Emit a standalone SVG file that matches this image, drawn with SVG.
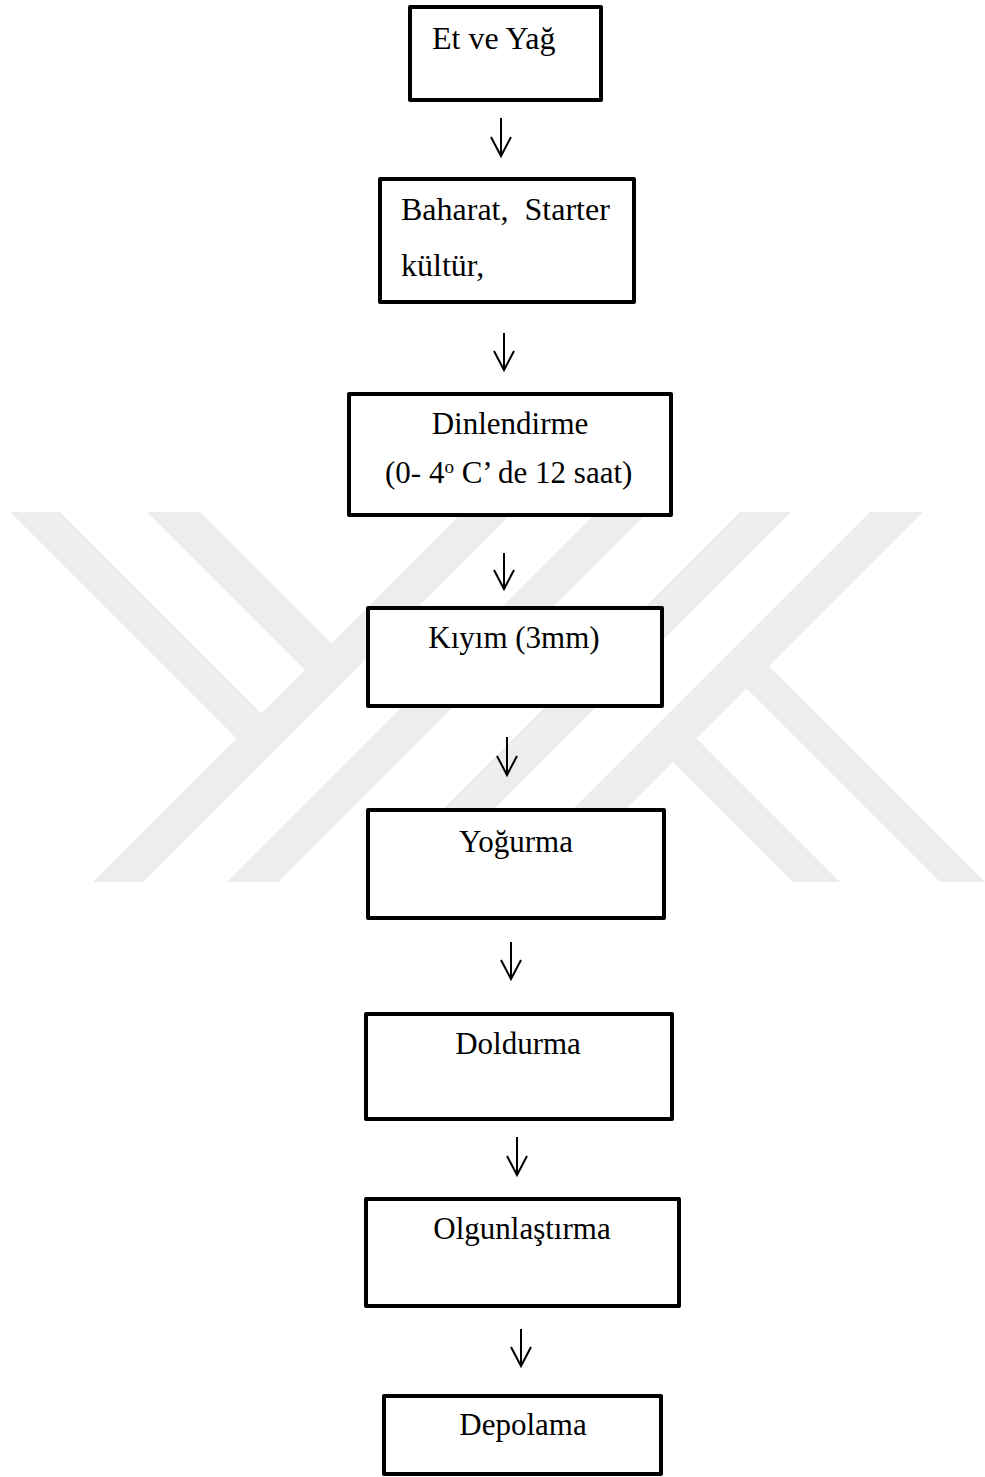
<svg xmlns="http://www.w3.org/2000/svg" width="985" height="1477" viewBox="0 0 985 1477">
<style>
.box{fill:#ffffff;stroke:#000000;stroke-width:4;stroke-linejoin:round}
.lbl{font-family:"Liberation Serif","Times New Roman",serif;font-size:31px;fill:#000000}
.big{font-size:32px}
.wm{fill:#ededed;stroke:none}
.arr{fill:none;stroke:#000000;stroke-width:2}
</style>
<rect x="0" y="0" width="985" height="1477" fill="#ffffff"/>
<g id="watermark">
<polygon class="wm" points="10,512 60,512 274,726 249,751"/>
<polygon class="wm" points="147,512 200,512 344,656 317.5,682.5"/>
<polygon class="wm" points="463,512 513,512 143,882 93,882"/>
<polygon class="wm" points="597,512 648,512 278,882 227,882"/>
<polygon class="wm" points="740,512 791,512 421,882 370,882"/>
<polygon class="wm" points="870,512 923,512 553,882 500,882"/>
<polygon class="wm" points="683,725 840,882 793,882 659.5,748.5"/>
<polygon class="wm" points="755.5,652.5 985,882 940,882 733,675"/>
</g>
<g id="connectors">
<path class="arr" d="M501 118 V156 M491 137 L501 156 L511 137"/>
<path class="arr" d="M504 333 V370 M494 351 L504 370 L514 351"/>
<path class="arr" d="M504 553 V589 M494 570 L504 589 L514 570"/>
<path class="arr" d="M507 737 V775 M497 756 L507 775 L517 756"/>
<path class="arr" d="M511 942 V979 M501 960 L511 979 L521 960"/>
<path class="arr" d="M517 1137 V1175 M507 1156 L517 1175 L527 1156"/>
<path class="arr" d="M521 1329 V1366 M511 1347 L521 1366 L531 1347"/>
</g>
<g id="node-et-ve-yag">
<rect class="box" x="410" y="7" width="191" height="93"/>
<text class="lbl big" x="432" y="49">Et ve Yağ</text>
</g>
<g id="node-baharat">
<rect class="box" x="380" y="179" width="254" height="123"/>
<text class="lbl big" x="401" y="220" xml:space="preserve">Baharat,  Starter</text>
<text class="lbl big" x="401" y="276">kültür,</text>
</g>
<g id="node-dinlendirme">
<rect class="box" x="349" y="394" width="322" height="121"/>
<text class="lbl" x="510" y="434" text-anchor="middle">Dinlendirme</text>
<text class="lbl" x="385" y="483">(0- 4<tspan font-size="19" dy="-10">o</tspan><tspan dy="10"> C’ de 12 saat)</tspan></text>
</g>
<g id="node-kiyim">
<rect class="box" x="368" y="608" width="294" height="98"/>
<text class="lbl" x="514" y="648" text-anchor="middle">Kıyım (3mm)</text>
</g>
<g id="node-yogurma">
<rect class="box" x="368" y="810" width="296" height="108"/>
<text class="lbl" x="516" y="852" text-anchor="middle">Yoğurma</text>
</g>
<g id="node-doldurma">
<rect class="box" x="366" y="1014" width="306" height="105"/>
<text class="lbl" x="518" y="1054" text-anchor="middle">Doldurma</text>
</g>
<g id="node-olgunlastirma">
<rect class="box" x="366" y="1199" width="313" height="107"/>
<text class="lbl" x="522" y="1239" text-anchor="middle">Olgunlaştırma</text>
</g>
<g id="node-depolama">
<rect class="box" x="384" y="1396" width="277" height="78"/>
<text class="lbl" x="523" y="1435" text-anchor="middle">Depolama</text>
</g>
</svg>
